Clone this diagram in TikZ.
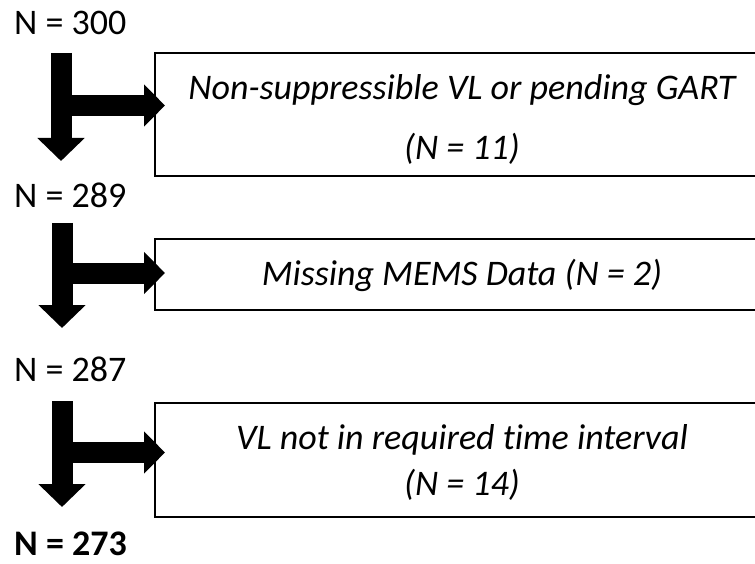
\documentclass[tikz,border=0pt]{standalone}
\usepackage{fontspec}
\setmainfont{Carlito}[Ligatures=NoCommon]
\usepackage{tikz}
\usetikzlibrary{positioning,arrows.meta}

\begin{document}
\begin{tikzpicture}[x=1pt,y=-1pt,font=\fontsize{36}{44}\selectfont]
	\tikzset{count/.style={anchor=base west,inner sep=0pt}}
	\tikzset{excl/.style={draw,line width=2pt,outer sep=0pt,inner sep=0pt,minimum width=614pt}}
	\tikzset{note/.style={anchor=base,inner sep=0pt,font=\fontsize{36}{44}\selectfont\itshape}}
	\tikzset{down/.style={line width=21pt,-{Triangle[width=46pt,length=23pt]}}}
	\tikzset{aside/.style={line width=21pt,-{Triangle[width=41pt,length=21pt]},shorten >=-10pt}}
%	\tikzset{every node/.style={draw=red}}

\useasboundingbox (0,0) rectangle (755,564);
\clip (0,0) rectangle (755,564);

% counts
\node[count] (n300) at (14,35) {N = 300};
\node[count] (n289) at (14,208) {N = 289};
\node[count] (n287) at (14,381) {N = 287};
\node[count,font=\fontsize{36}{44}\selectfont\bfseries] (n273) at (14,555) {N = 273};

% exclusions
\node[excl,minimum height=123pt] (box1) at (462,114.5) {};
\node[note] (t1a) at (462,100) {Non-suppressible VL or pending GART};
\node[note] (t1b) at (462,160) {(N = 11)};

\node[excl,minimum height=71pt] (box2) at (462,274.5) {};
\node[note] (t2) at (462,285) {Missing MEMS Data (N = 2)};

\node[excl,minimum height=114pt] (box3) at (462,460) {};
\node[note] (t3a) at (462,449) {VL not in required t{}ime interval};
\node[note] (t3b) at (462,495) {(N = 14)};

% arrows
\coordinate (top1) at (61,53);
\coordinate (tip1) at (61,161);
\coordinate (mid1) at (61,105.5);
\coordinate (top2) at (62,223);
\coordinate (tip2) at (62,328);
\coordinate (mid2) at (62,273);
\coordinate (top3) at (62,401);
\coordinate (tip3) at (62,507);
\coordinate (mid3) at (62,452.5);

\draw[down] (top1) -- (tip1);
\draw[aside] (mid1) -- (mid1 -| box1.west);
\draw[down] (top2) -- (tip2);
\draw[aside] (mid2) -- (mid2 -| box2.west);
\draw[down] (top3) -- (tip3);
\draw[aside] (mid3) -- (mid3 -| box3.west);

\end{tikzpicture}
\end{document}
